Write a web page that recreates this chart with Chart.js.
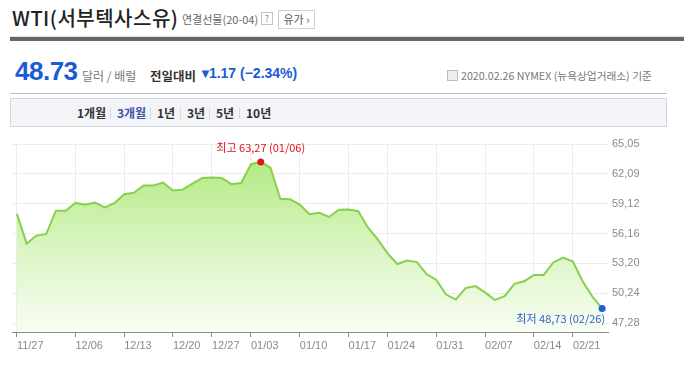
<!DOCTYPE html>
<html>
<head>
<meta charset="utf-8">
<script src="https://cdn.jsdelivr.net/npm/chart.js@4"></script>
<style>
  html, body { margin: 0; padding: 0; background: #fff; }
  body { width: 684px; height: 388px; position: relative; overflow: hidden; font-family: 'Noto Sans CJK KR', 'Noto Sans', sans-serif; }
  .abs { position: absolute; white-space: nowrap; }
  .title { left: 12px; top: 3px; font-size: 20px; font-weight: 500; color: #222; letter-spacing: 0.5px; }
  .sub { left: 182px; top: 11px; font-size: 11px; color: #666; }
  .qbox { left: 261px; top: 12px; width: 10px; height: 11px; border: 1px solid #c4c4c4; font-size: 9px; line-height: 11px; text-align: center; color: #888; }
  .btn { left: 278px; top: 10px; width: 35px; height: 17px; border: 1px solid #cfcfcf; font-size: 11px; line-height: 17px; text-align: center; color: #555; }
  .thin { left: 10px; right: 0; top: 36px; height: 1px; background: #e2e2e2; }
  .bar { left: 10px; right: 0; top: 37px; height: 4px; background: #63676d; }
  .price { left: 15px; top: 56px; font: bold 26px 'Liberation Sans', Arial, sans-serif; color: #1a5bd6; letter-spacing: -0.5px; }
  .unit { left: 82px; top: 67px; font-size: 12px; color: #777; }
  .cmp { left: 150px; top: 66px; font-size: 12.5px; font-weight: bold; color: #333; }
  .chg { left: 199px; top: 65px; font: bold 14px 'Liberation Sans', Arial, sans-serif; color: #1a5bd6; }
  .chg b { font-size: 13px; margin-right: -3px; }
  .info { left: 447px; top: 68px; font-size: 10.7px; color: #777; }
  .info i { display: inline-block; width: 9px; height: 9px; border: 1px solid #bbb; background: #eee; margin-right: 3px; vertical-align: -1px; }
  .rule { left: 10px; top: 93px; width: 657px; height: 1px; background: #bcbccc; }
  .tabs { left: 10px; top: 98px; width: 655px; height: 27px; background: #f3f4f7; border: 1px solid #d5d6dc; }
  .tab { top: 104px; font-size: 12px; font-weight: bold; color: #333; }
  .sep { top: 108px; width: 1px; height: 11px; background: #d8d8de; }
  #wrap { position: absolute; left: 0; top: 130px; width: 684px; height: 250px; }
</style>
</head>
<body>
<div class="abs title">WTI(서부텍사스유)</div>
<div class="abs sub">연결선물(20-04)</div>
<div class="abs qbox">?</div>
<div class="abs btn">유가 ›</div>
<div class="abs thin"></div>
<div class="abs bar"></div>
<div class="abs price">48.73</div>
<div class="abs unit">달러 / 배럴</div>
<div class="abs cmp">전일대비</div>
<div class="abs chg"><b>▼</b>1.17 (−2.34%)</div>
<div class="abs info"><i></i>2020.02.26 NYMEX (뉴욕상업거래소) 기준</div>
<div class="abs rule"></div>
<div class="abs tabs"></div>
<div class="abs tab" style="left:77px">1개월</div>
<div class="abs sep" style="left:110px"></div>
<div class="abs tab" style="left:117px;color:#3d55a8">3개월</div>
<div class="abs sep" style="left:150px"></div>
<div class="abs tab" style="left:157px">1년</div>
<div class="abs sep" style="left:180px"></div>
<div class="abs tab" style="left:187px">3년</div>
<div class="abs sep" style="left:209px"></div>
<div class="abs tab" style="left:216px">5년</div>
<div class="abs sep" style="left:239px"></div>
<div class="abs tab" style="left:246px">10년</div>
<div id="wrap"><canvas id="wti"></canvas></div>
<script>
// trading days, 2019-11-27 .. 2020-02-26
const dates = ['11/27', '11/29', '12/02', '12/03', '12/04', '12/05', '12/06', '12/09', '12/10', '12/11',
  '12/12', '12/13', '12/16', '12/17', '12/18', '12/19', '12/20', '12/23', '12/24', '12/26',
  '12/27', '12/30', '12/31', '01/02', '01/03', '01/06', '01/07', '01/08', '01/09', '01/10',
  '01/13', '01/14', '01/15', '01/16', '01/17', '01/21', '01/22', '01/23', '01/24', '01/27',
  '01/28', '01/29', '01/30', '01/31', '02/03', '02/04', '02/05', '02/06', '02/07', '02/10',
  '02/11', '02/12', '02/13', '02/14', '02/18', '02/19', '02/20', '02/21', '02/24', '02/25', '02/26'];
const prices = [58.11, 55.17, 55.96, 56.10, 58.43, 58.43, 59.20, 59.02, 59.24, 58.76,
  59.18, 60.07, 60.21, 60.94, 60.93, 61.22, 60.44, 60.52, 61.11, 61.68,
  61.72, 61.68, 61.06, 61.18, 63.05, 63.27, 62.70, 59.61, 59.56, 59.04,
  58.08, 58.23, 57.81, 58.52, 58.54, 58.38, 56.74, 55.59, 54.19, 53.14,
  53.48, 53.33, 52.14, 51.56, 50.11, 49.61, 50.75, 50.95, 50.32, 49.57,
  49.94, 51.17, 51.42, 52.05, 52.05, 53.29, 53.78, 53.38, 51.43, 49.90, 48.73];
const xTickDays = ['11/27', '12/06', '12/13', '12/20', '12/27', '01/03', '01/10', '01/17', '01/24', '01/31', '02/07', '02/14', '02/21'];
const yTicks = [47.28, 50.24, 53.20, 56.16, 59.12, 62.09, 65.05];

const comma = (v) => v.toFixed(2).replace('.', ',');
const hiIdx = prices.indexOf(Math.max(...prices));
const loIdx = prices.length - 1;

const marks = {
  id: 'marks',
  afterDatasetsDraw(chart) {
    const ctx = chart.ctx;
    const pts = chart.getDatasetMeta(0).data;
    ctx.save();
    ctx.font = "11px 'Noto Sans CJK KR', sans-serif";
    ctx.textBaseline = 'alphabetic';
    const hi = pts[hiIdx];
    ctx.fillStyle = '#e3121e';
    ctx.textAlign = 'center';
    ctx.fillText(`최고 ${comma(prices[hiIdx])} (${dates[hiIdx]})`, hi.x, hi.y - 10);
    const lo = pts[loIdx];
    ctx.fillStyle = '#2a62c9';
    ctx.textAlign = 'right';
    ctx.fillText(`최저 ${comma(prices[loIdx])} (${dates[loIdx]})`, lo.x + 3, lo.y + 15);
    ctx.restore();
  }
};

new Chart(document.getElementById('wti'), {
  type: 'line',
  data: {
    datasets: [{
      data: prices.map((v, i) => ({ x: i, y: v })),
      borderColor: '#88d04c',
      borderWidth: 2,
      tension: 0,
      fill: 'start',
      backgroundColor: (c) => {
        const a = c.chart.chartArea;
        if (!a) return 'rgba(180,235,130,0.5)';
        const g = c.chart.ctx.createLinearGradient(0, a.top, 0, a.bottom);
        g.addColorStop(0, '#acE878');
        g.addColorStop(0.5, '#d6f4bc');
        g.addColorStop(1, '#f8fdf3');
        return g;
      },
      pointRadius: prices.map((v, i) => (i === hiIdx || i === loIdx ? 3.5 : 0)),
      pointBackgroundColor: prices.map((v, i) => (i === hiIdx ? '#ee1111' : '#1a5fe0')),
      pointBorderWidth: 0
    }]
  },
  options: {
    responsive: true,
    maintainAspectRatio: false,
    animation: false,
    layout: { padding: { left: 12, top: 14, right: 0, bottom: 0 } },
    plugins: { legend: { display: false }, tooltip: { enabled: false } },
    scales: {
      x: {
        type: 'linear',
        min: -0.5,
        max: 60.6,
        afterBuildTicks: (s) => { s.ticks = xTickDays.map((d) => ({ value: dates.indexOf(d) })); },
        afterFit: (s) => { s.height = 48; },
        ticks: {
          callback: (v) => dates[v],
          align: 'start',
          autoSkip: false,
          maxRotation: 0,
          padding: 2,
          color: '#8a8a8a',
          font: { family: "'Liberation Sans Narrow', 'Liberation Sans', Arial, sans-serif", size: 11 }
        },
        grid: { color: '#ececec', tickColor: '#888', tickLength: 5 },
        border: { color: '#8c8c8c' }
      },
      y: {
        position: 'right',
        min: 46.39,
        max: 65.05,
        afterBuildTicks: (s) => { s.ticks = yTicks.map((v) => ({ value: v })); },
        afterFit: (s) => { s.width = 76; },
        ticks: {
          callback: (v) => comma(v),
          padding: 4,
          color: '#8a8a8a',
          font: { family: "'Liberation Sans Narrow', 'Liberation Sans', Arial, sans-serif", size: 11 }
        },
        grid: { color: '#ececec', drawTicks: false },
        border: { display: false }
      }
    }
  },
  plugins: [marks]
});
</script>
</body>
</html>
